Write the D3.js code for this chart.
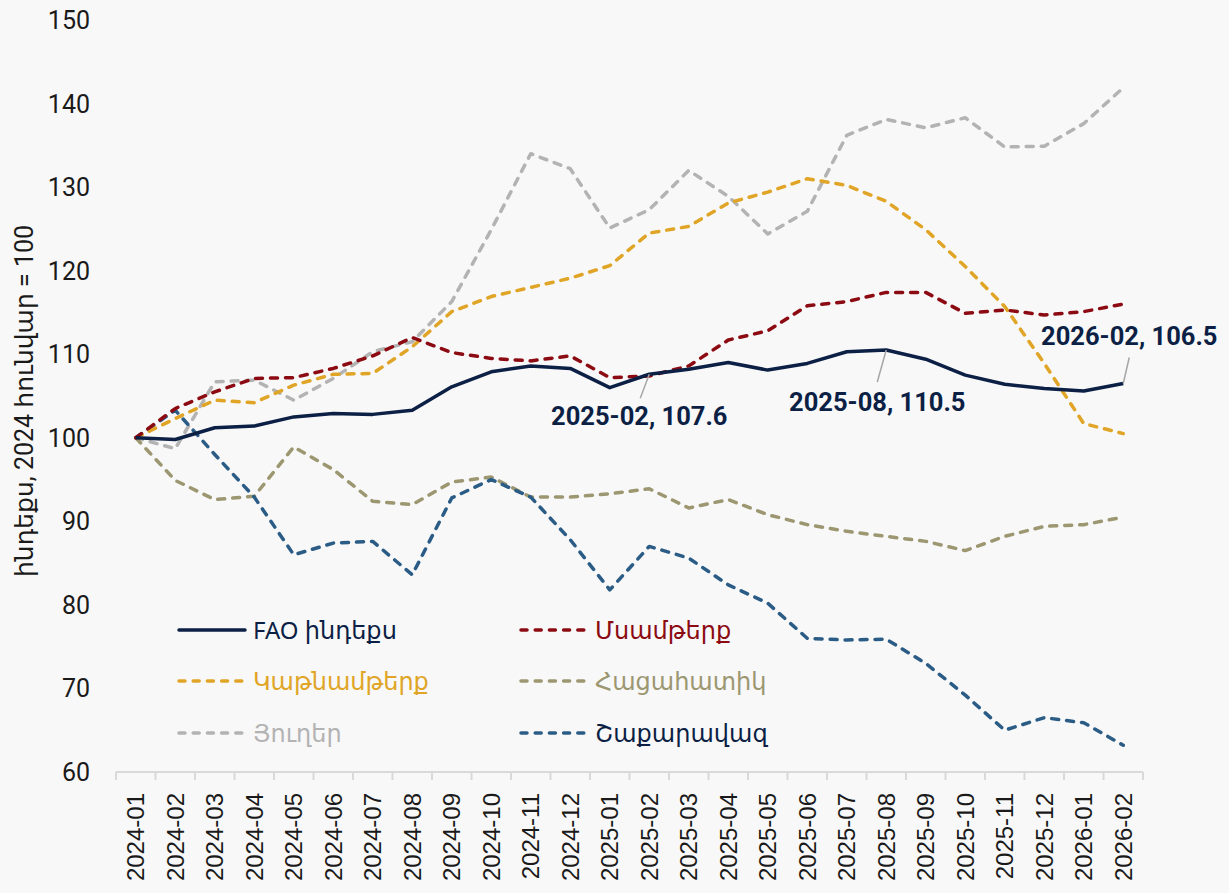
<!DOCTYPE html>
<html>
<head>
<meta charset="utf-8">
<script src="https://cdn.jsdelivr.net/npm/d3@7"></script>
<style>
  html, body { margin: 0; padding: 0; background: #f8f8f8; }
  svg { display: block; }
</style>
</head>
<body>
<svg id="chart" width="1229" height="893"></svg>
<script>
// ամիսներ
const months = [
  "2024-01", "2024-02", "2024-03", "2024-04", "2024-05", "2024-06", "2024-07",
  "2024-08", "2024-09", "2024-10", "2024-11", "2024-12", "2025-01", "2025-02",
  "2025-03", "2025-04", "2025-05", "2025-06", "2025-07", "2025-08", "2025-09",
  "2025-10", "2025-11", "2025-12", "2026-01", "2026-02"
];

const faoIndex = [100, 99.8, 101.2, 101.4, 102.5, 102.9, 102.8, 103.3, 106.1, 107.9, 108.6, 108.3, 106.0,
  107.6, 108.2, 109.0, 108.1, 108.9, 110.3, 110.5, 109.4, 107.5, 106.4, 105.9, 105.6, 106.5];
const meat = [100, 103.5, 105.5, 107.1, 107.2, 108.3, 109.8, 112.0, 110.2, 109.5, 109.2, 109.8, 107.2,
  107.4, 108.6, 111.7, 112.8, 115.8, 116.3, 117.4, 117.4, 114.9, 115.3, 114.7, 115.1, 116.0];
const dairy = [100, 102.3, 104.5, 104.2, 106.3, 107.6, 107.7, 110.9, 115.1, 116.9, 118.0, 119.1, 120.6,
  124.5, 125.3, 128.1, 129.4, 131.0, 130.2, 128.3, 124.9, 120.5, 115.7, 108.9, 101.7, 100.5];
const cereals = [100, 94.9, 92.6, 93.0, 98.9, 96.2, 92.4, 92.0, 94.7, 95.3, 92.9, 92.9, 93.3,
  93.9, 91.6, 92.6, 90.8, 89.6, 88.8, 88.2, 87.6, 86.5, 88.2, 89.4, 89.6, 90.5];
const oils = [100, 98.7, 106.7, 106.9, 104.5, 107.1, 110.3, 111.5, 116.3, 124.9, 134.0, 132.2, 125.1,
  127.3, 132.0, 128.9, 124.4, 127.1, 136.2, 138.1, 137.1, 138.3, 134.8, 134.9, 137.6, 141.9];
const sugar = [100, 103.3, 98.0, 92.9, 86.0, 87.4, 87.6, 83.6, 92.8, 95.0, 92.9, 87.8, 81.8,
  87.0, 85.6, 82.4, 80.2, 76.0, 75.8, 75.9, 73.0, 69.2, 65.0, 66.5, 65.9, 63.2];

const yTicks = [60, 70, 80, 90, 100, 110, 120, 130, 140, 150];
const annotatedMonths = ["2025-02", "2025-08", "2026-02"];

// շարքեր (գծման հերթականությամբ)
const series = [
  { name: "Յուղեր", values: oils, color: "#b3b3b3", text: "#b3b3b3", dash: true },
  { name: "Հացահատիկ", values: cereals, color: "#9c9771", text: "#9c9771", dash: true },
  { name: "Շաքարավազ", values: sugar, color: "#2b5c86", text: "#0c1f45", dash: true },
  { name: "Կաթնամթերք", values: dairy, color: "#e0a526", text: "#e0a526", dash: true },
  { name: "Մսամթերք", values: meat, color: "#8c0b12", text: "#8c0b12", dash: true },
  { name: "FAO ինդեքս", values: faoIndex, color: "#0c1f45", text: "#0c1f45", dash: false }
];
const legendOrder = ["FAO ինդեքս", "Մսամթերք", "Կաթնամթերք", "Հացահատիկ", "Յուղեր", "Շաքարավազ"];

const svg = d3.select("#chart");
const plotLeft = 116, plotRight = 1143, plotTop = 20, plotBottom = 772;

const x = d3.scaleBand().domain(months).range([plotLeft, plotRight]);
const y = d3.scaleLinear().domain([60, 150]).range([plotBottom, plotTop]);
const cx = m => x(m) + x.bandwidth() / 2;

// y առանցք
svg.append("g").selectAll("text").data(yTicks).enter().append("text")
  .attr("x", 90)
  .attr("y", d => y(d))
  .attr("dy", "0.36em")
  .attr("text-anchor", "end")
  .attr("font-family", "Roboto, sans-serif")
  .attr("font-size", 25)
  .attr("fill", "#1a1a1a")
  .text(d => d);

svg.append("text")
  .attr("transform", `translate(33, ${(plotTop + plotBottom) / 2 + 5}) rotate(-90)`)
  .attr("text-anchor", "middle")
  .attr("font-family", "Roboto, 'Noto Sans', 'DejaVu Sans', sans-serif")
  .attr("font-size", 25)
  .attr("fill", "#1a1a1a")
  .text("ինդեքս, 2024 հունվար = 100");

// x առանցք
const xAxis = svg.append("g");
xAxis.append("line")
  .attr("x1", plotLeft).attr("x2", plotRight)
  .attr("y1", plotBottom).attr("y2", plotBottom)
  .attr("stroke", "#d9d9d9").attr("stroke-width", 2);
const edges = months.map(m => x(m)).concat([plotRight]);
xAxis.selectAll("line.tick").data(edges).enter().append("line")
  .attr("class", "tick")
  .attr("x1", d => d).attr("x2", d => d)
  .attr("y1", plotBottom).attr("y2", plotBottom + 8)
  .attr("stroke", "#d9d9d9").attr("stroke-width", 2);
xAxis.selectAll("text").data(months).enter().append("text")
  .attr("transform", d => `translate(${cx(d)}, 793) rotate(-90)`)
  .attr("dy", "0.36em")
  .attr("text-anchor", "end")
  .attr("font-family", "'Liberation Sans', Arial, sans-serif")
  .attr("font-size", 24)
  .attr("fill", "#1a1a1a")
  .text(d => d);

// գծեր
const line = d3.line()
  .x((d, i) => cx(months[i]))
  .y(d => y(d));

svg.append("g").selectAll("path").data(series).enter().append("path")
  .attr("d", d => line(d.values))
  .attr("fill", "none")
  .attr("stroke", d => d.color)
  .attr("stroke-width", 3.5)
  .attr("stroke-linejoin", "round")
  .attr("stroke-linecap", d => d.dash ? "round" : "butt")
  .attr("stroke-dasharray", d => d.dash ? "7,8" : null);

// նշումներ
const labelPos = {
  "2025-02": { lx: -9, ly: 24, tx: -10, ty: 51 },
  "2025-08": { lx: -9, ly: 32, tx: -9, ty: 61 },
  "2026-02": { lx: 6, ly: -26, tx: 6, ty: -38 }
};
const ann = svg.append("g");
annotatedMonths.forEach(m => {
  const i = months.indexOf(m);
  const v = faoIndex[i];
  const px = cx(m), py = y(v);
  const p = labelPos[m];
  ann.append("line")
    .attr("x1", px).attr("y1", py)
    .attr("x2", px + p.lx).attr("y2", py + p.ly)
    .attr("stroke", "#a6a6a6").attr("stroke-width", 1.5);
  ann.append("text")
    .attr("x", px + p.tx).attr("y", py + p.ty)
    .attr("text-anchor", "middle")
    .attr("font-family", "Roboto, sans-serif")
    .attr("font-weight", "bold")
    .attr("font-size", 25.5)
    .attr("fill", "#0c1f45")
    .text(`${m}, ${v.toFixed(1)}`);
});

// լեգենդ
const legendCols = [177, 519];
const legendRows = [630, 681, 733];
const lg = svg.append("g");
legendOrder.forEach((name, k) => {
  const s = series.find(d => d.name === name);
  const lx = legendCols[k % 2], ly = legendRows[Math.floor(k / 2)];
  lg.append("line")
    .attr("x1", lx + 2).attr("x2", lx + 68)
    .attr("y1", ly).attr("y2", ly)
    .attr("stroke", s.color)
    .attr("stroke-width", 3.5)
    .attr("stroke-linecap", "round")
    .attr("stroke-dasharray", s.dash ? "6,8.2" : null);
  lg.append("text")
    .attr("x", lx + 76).attr("y", ly)
    .attr("dy", "0.36em")
    .attr("font-family", "'Noto Sans', 'DejaVu Sans', sans-serif")
    .attr("font-size", 24)
    .attr("fill", s.text)
    .text(name);
});
</script>
</body>
</html>
